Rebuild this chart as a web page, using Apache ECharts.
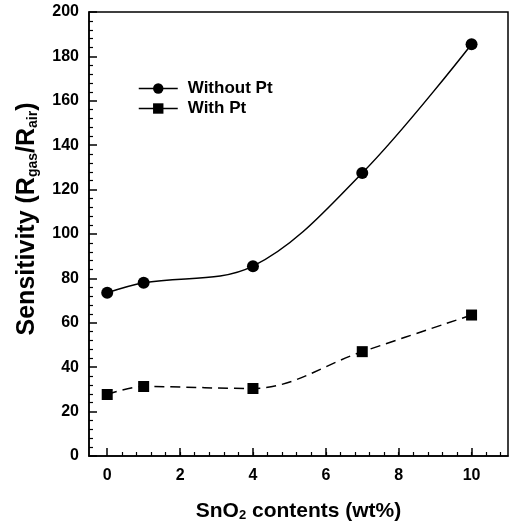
<!DOCTYPE html>
<html>
<head>
<meta charset="utf-8">
<script src="https://cdn.jsdelivr.net/npm/echarts@6/dist/echarts.min.js"></script>
<style>
  html, body { margin: 0; padding: 0; background: #fff; }
  #chart { width: 514px; height: 527px; }
</style>
</head>
<body>
<div id="chart"></div>
<script>
// SnO2 content (wt%)
const snO2Content = [0, 1, 4, 7, 10];
const withoutPt = [73.5, 78, 85.5, 127.5, 185.5];
const withPt = [27.7, 31.3, 30.4, 47, 63.5];
const xTickLabels = [0, 2, 4, 6, 8, 10];

const font = "'Liberation Sans', Arial, sans-serif";
const chart = echarts.init(document.getElementById("chart"));

// minor ticks on x every 0.4 from the origin
const xMinorTicks = [];
for (let v = 0.4; v < 11; v += 0.4) xMinorTicks.push(+v.toFixed(1));

chart.setOption({
  backgroundColor: "#fff",
  animation: false,
  grid: {
    left: 89, top: 12, right: 6, bottom: 68,
    show: true, borderColor: "#000", borderWidth: 1.5,
  },
  legend: {
    orient: "vertical",
    left: 138, top: 80, padding: 0,
    itemWidth: 39, itemHeight: 13, itemGap: 3,
    textStyle: { fontFamily: font, fontWeight: "bold", fontSize: 17, color: "#000", padding: [0, 0, 0, 5] },
    lineStyle: { type: "solid", width: 1.5 },
    data: ["Without Pt", "With Pt"],
  },
  xAxis: [
    {
      type: "value",
      min: -0.5, max: 11,
      axisLine: { onZero: false, lineStyle: { color: "#000", width: 1.5 } },
      axisTick: { inside: true, length: 8, customValues: xTickLabels, lineStyle: { color: "#000", width: 1.5 } },
      axisLabel: {
        customValues: xTickLabels, margin: 12,
        fontFamily: font, fontWeight: "bold", fontSize: 16, color: "#000",
      },
      splitLine: { show: false },
      name: "{a|SnO}{s|2}{a| contents (wt%)}",
      nameLocation: "middle", nameGap: 44,
      nameTextStyle: {
        rich: {
          a: { fontFamily: font, fontWeight: "bold", fontSize: 21, color: "#000" },
          s: { fontFamily: font, fontWeight: "bold", fontSize: 13, color: "#000", verticalAlign: "bottom", padding: [9, 0, 0, 0] },
        },
      },
    },
    {
      type: "value",
      min: -0.5, max: 11,
      position: "bottom",
      axisLine: { show: false, onZero: false },
      axisTick: { inside: true, length: 4, customValues: xMinorTicks, lineStyle: { color: "#000", width: 1.2 } },
      axisLabel: { show: false },
      splitLine: { show: false },
    },
  ],
  yAxis: {
    type: "value",
    min: 0, max: 200, interval: 20,
    axisLine: { show: true, onZero: false, lineStyle: { color: "#000", width: 1.5 } },
    axisTick: { inside: true, length: 8, lineStyle: { color: "#000", width: 1.5 } },
    minorTick: { show: true, splitNumber: 5, length: 4, lineStyle: { color: "#000", width: 1.2 } },
    axisLabel: { margin: 10, fontFamily: font, fontWeight: "bold", fontSize: 16, color: "#000" },
    splitLine: { show: false },
    name: "{a|Sensitivity (R}{s|gas}{a|/R}{s|air}{a|)}",
    nameLocation: "middle", nameGap: 49, nameRotate: 90,
    nameTextStyle: {
      padding: [0, 0, 0, 30],
      rich: {
        a: { fontFamily: font, fontWeight: "bold", fontSize: 25, color: "#000" },
        s: { fontFamily: font, fontWeight: "bold", fontSize: 14, color: "#000", verticalAlign: "bottom", padding: [10, 0, 0, 0] },
      },
    },
  },
  series: [
    {
      name: "Without Pt",
      type: "line",
      smooth: 0.35,
      symbol: "circle", symbolSize: 12,
      itemStyle: { color: "#000" },
      lineStyle: { color: "#000", width: 1.5 },
      data: snO2Content.map((x, i) => [x, withoutPt[i]]),
    },
    {
      name: "With Pt",
      type: "line",
      smooth: 0.35,
      symbol: "rect", symbolSize: 11,
      itemStyle: { color: "#000" },
      lineStyle: { color: "#000", width: 1.5, type: [10, 6] },
      data: snO2Content.map((x, i) => [x, withPt[i]]),
    },
  ],
});
</script>
</body>
</html>
